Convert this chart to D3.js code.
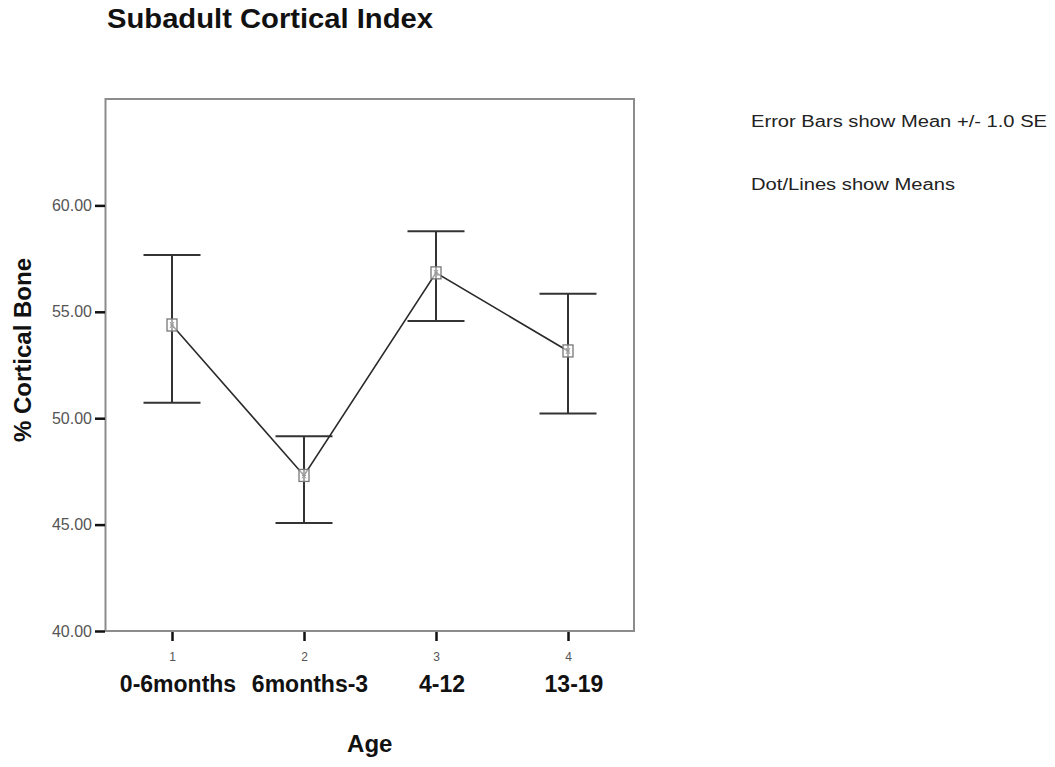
<!DOCTYPE html>
<html>
<head>
<meta charset="utf-8">
<script src="https://cdn.jsdelivr.net/npm/d3@7"></script>
<style>
  html, body { margin: 0; padding: 0; background: #fff; }
  svg { display: block; font-family: "Liberation Sans", Arial, sans-serif; }
</style>
</head>
<body>
<svg id="chart" width="1055" height="767"></svg>
<script>
// ---- data ----
const groups = [1, 2, 3, 4];
const groupLabels = ["0-6months", "6months-3", "4-12", "13-19"];
const means = [54.38, 47.31, 56.83, 53.16];
const upper = [57.67, 49.15, 58.78, 55.85];
const lower = [50.73, 45.07, 54.57, 50.22];
const yTicks = [40, 45, 50, 55, 60];
const legendLines = ["Error Bars show  Mean +/- 1.0 SE", "Dot/Lines show  Means"];

const svg = d3.select("#chart");
const box = { left: 105.5, right: 634, top: 99, bottom: 631 };

const x = d3.scaleLinear().domain([0.5, 4.5]).range([box.left + 0.5, box.right]);
const y = d3.scaleLinear().domain([40, 65]).range([box.bottom, box.top]);

// title
svg.append("text")
  .attr("x", 107).attr("y", 28)
  .attr("font-size", 28).attr("font-weight", "bold").attr("fill", "#111")
  .attr("textLength", 326).attr("lengthAdjust", "spacingAndGlyphs")
  .text("Subadult Cortical Index");

// frame
svg.append("rect")
  .attr("x", box.left).attr("y", box.top)
  .attr("width", box.right - box.left).attr("height", box.bottom - box.top)
  .attr("fill", "none").attr("stroke", "#8c8c8c").attr("stroke-width", 2);

// y axis
const yAxis = svg.append("g")
  .attr("transform", `translate(${box.left - 0.5},0)`)
  .call(d3.axisLeft(y).tickValues(yTicks).tickFormat(d3.format(".2f")).tickSize(10).tickPadding(3));
yAxis.select(".domain").remove();
yAxis.selectAll(".tick line").attr("stroke", "#111").attr("stroke-width", 2.5);
yAxis.selectAll(".tick text").attr("font-size", 16).attr("fill", "#555")
  .attr("font-family", "Liberation Sans, Arial, sans-serif");

// x axis
const xAxis = svg.append("g")
  .attr("transform", `translate(0,${box.bottom + 1})`)
  .call(d3.axisBottom(x).tickValues(groups).tickFormat(d3.format("d")).tickSize(9).tickPadding(11));
xAxis.select(".domain").remove();
xAxis.selectAll(".tick line").attr("stroke", "#111").attr("stroke-width", 2.5);
xAxis.selectAll(".tick text").attr("font-size", 12).attr("fill", "#555")
  .attr("font-family", "Liberation Sans, Arial, sans-serif");

// category labels
svg.append("g").selectAll("text").data(groups).join("text")
  .attr("x", (d) => x(d) + 6).attr("y", 692)
  .attr("text-anchor", "middle")
  .attr("font-size", 23).attr("font-weight", "bold").attr("fill", "#111")
  .text((d, i) => groupLabels[i]);

// axis titles
svg.append("text")
  .attr("x", (box.left + box.right) / 2).attr("y", 752)
  .attr("text-anchor", "middle")
  .attr("font-size", 24).attr("font-weight", "bold").attr("fill", "#111")
  .text("Age");

svg.append("text")
  .attr("transform", `translate(31,350) rotate(-90)`)
  .attr("text-anchor", "middle")
  .attr("font-size", 24).attr("font-weight", "bold").attr("fill", "#111")
  .text("% Cortical Bone");

// error bars
const capHalf = 28.5;
const eb = svg.append("g").attr("stroke", "#333").attr("stroke-width", 2).attr("fill", "none");
groups.forEach((g, i) => {
  eb.append("line").attr("x1", x(g)).attr("x2", x(g)).attr("y1", y(upper[i])).attr("y2", y(lower[i]));
  eb.append("line").attr("x1", x(g) - capHalf).attr("x2", x(g) + capHalf).attr("y1", y(upper[i])).attr("y2", y(upper[i]));
  eb.append("line").attr("x1", x(g) - capHalf).attr("x2", x(g) + capHalf).attr("y1", y(lower[i])).attr("y2", y(lower[i]));
});

// mean line
const line = d3.line().x((d) => x(d)).y((d, i) => y(means[i]));
svg.append("path").datum(groups)
  .attr("d", line).attr("fill", "none").attr("stroke", "#2a2a2a").attr("stroke-width", 1.6);

// markers
const mk = svg.append("g").selectAll("g").data(groups).join("g")
  .attr("transform", (d, i) => `translate(${x(d)},${y(means[i])})`);
mk.append("rect").attr("x", -5).attr("y", -6).attr("width", 10).attr("height", 12)
  .attr("fill", "#fff").attr("fill-opacity", 0.6).attr("stroke", "#777").attr("stroke-width", 1.3);
mk.append("path").attr("d", "M-2,-3 L2,3 M2,-3 L-2,3 M-2,0 L2,0")
  .attr("stroke", "#999").attr("stroke-width", 1).attr("fill", "none");

// legend text
svg.append("g").selectAll("text").data(legendLines).join("text")
  .attr("x", 751).attr("y", (d, i) => 127 + i * 63)
  .attr("font-size", 16).attr("fill", "#222")
  .attr("textLength", (d, i) => [296, 204][i]).attr("lengthAdjust", "spacingAndGlyphs")
  .text((d) => d);
</script>
</body>
</html>
